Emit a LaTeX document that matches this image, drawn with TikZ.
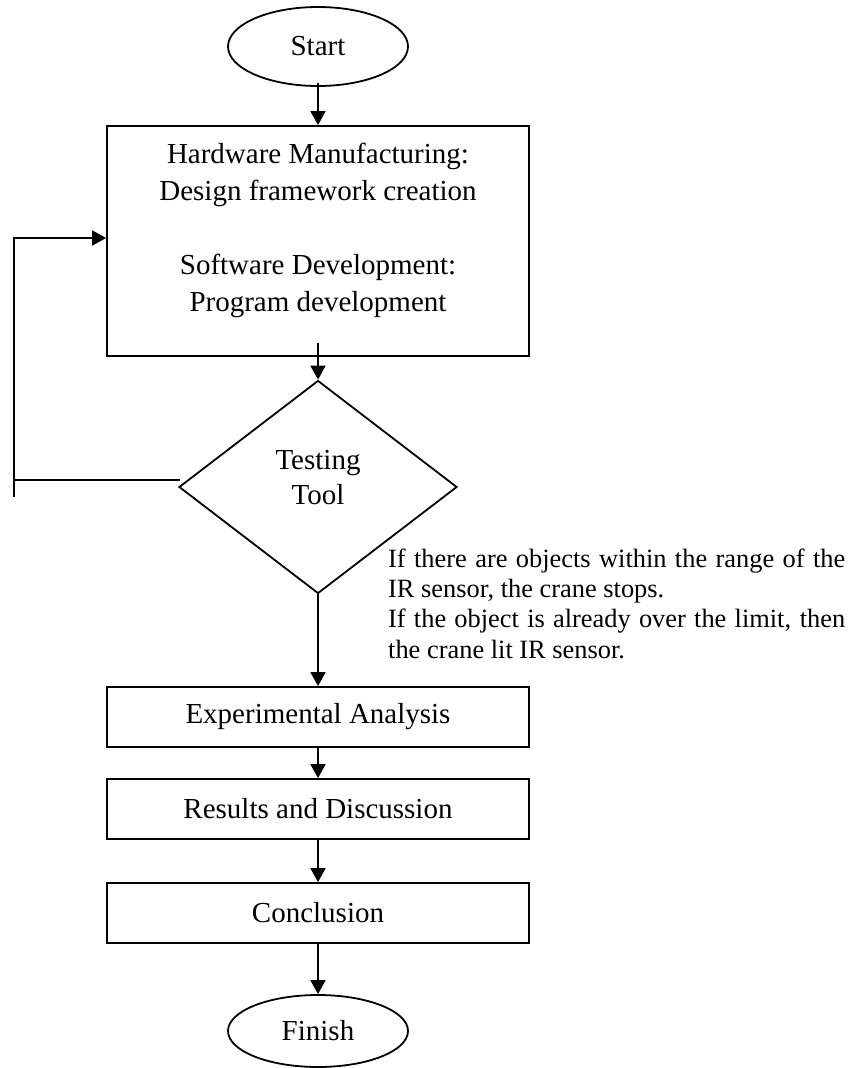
\documentclass[tikz,border=0pt]{standalone}
\usepackage{fontspec}
\setmainfont{Liberation Serif}
\usetikzlibrary{shapes.geometric,arrows.meta}
\begin{document}
\begin{tikzpicture}[x=1pt,y=-1pt,
  line/.style={line width=1.8pt},
  arr/.style={line width=1.8pt,-{Triangle[length=14pt,width=15pt]}},
  txt/.style={font=\fontsize{29}{37}\selectfont, inner sep=0pt},
  side/.style={font=\fontsize{26.4}{30.5}\selectfont, inner sep=0pt, anchor=base west},
  stepbox/.style={draw, line width=1.8pt, minimum width=422pt, inner sep=0pt, font=\fontsize{29}{37}\selectfont},
  term/.style={draw, ellipse, line width=1.8pt, minimum width=180pt, inner sep=0pt, font=\fontsize{29}{37}\selectfont}]
\useasboundingbox (0,0) rectangle (857,1068);

% terminals
\node[term, minimum height=79pt] (start) at (318,46.5) {Start};
\node[term, minimum height=72pt] (finish) at (318,1031) {Finish};

% first process box
\node[stepbox, minimum height=230pt] (b1) at (318,241) {};
\node[txt, align=center] (b1t) at (318,230) {Hardware Manufacturing:\\Design framework creation\\[37pt]Software Development:\\Program development};

% decision
\node[draw, diamond, line width=1.8pt, minimum width=278pt, minimum height=213pt, inner sep=0pt] (d) at (318,487) {};
\node[font=\fontsize{29}{35}\selectfont, inner sep=0pt, align=center] (dt) at (318,478) {Testing\\Tool};

% lower boxes
\node[stepbox, minimum height=60pt] (ea) at (318,717) {Experimental Analysis};
\node[stepbox, minimum height=60pt] (rd) at (318,809) {Results and Discussion};
\node[stepbox, minimum height=60pt] (cc) at (318,913) {Conclusion};

% side note
\node[side] (n1) at (388,567) {\makebox[457pt][s]{If there are objects within the range of the}};
\node[side] (n2) at (388,597) {IR sensor, the crane stops.};
\node[side] (n3) at (388,627) {\makebox[457pt][s]{If the object is already over the limit, then}};
\node[side] (n4) at (388,658) {the crane lit IR sensor.};

% connectors
\draw[arr] ([yshift=4pt]start.south) -- (b1.north);
\draw[arr] ([yshift=14pt]b1.south) -- (d.north);
\draw[arr] (d.south) -- (ea.north);
\draw[arr] (ea.south) -- (rd.north);
\draw[arr] (rd.south) -- (cc.north);
\draw[arr] (cc.south) -- (finish.north);

% feedback loop
\coordinate (fbA) at (180,480);
\coordinate (fbB) at (14,497);
\coordinate (fbC) at (14,238);
\draw[line] (fbA) -- (fbA -| fbB);
\draw[arr] (fbB) -- (fbC) -- (fbC -| b1.west);
\end{tikzpicture}
\end{document}
